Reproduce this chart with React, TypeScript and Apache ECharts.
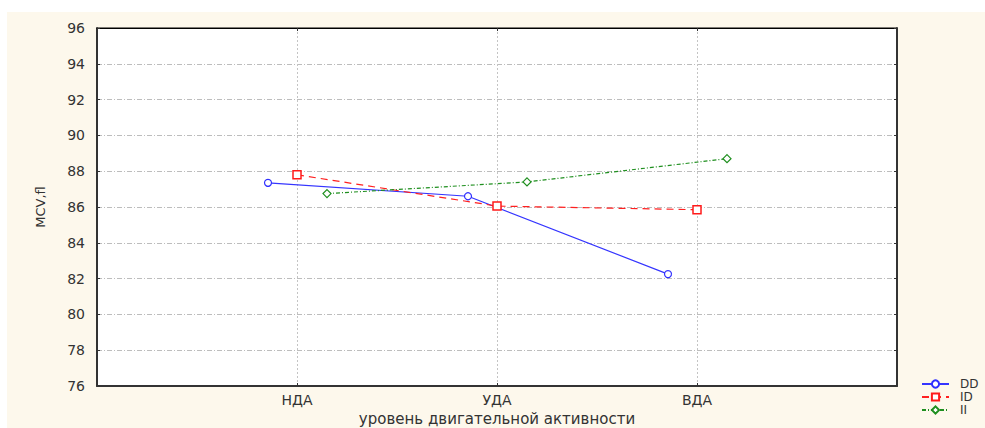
import React, { useEffect, useRef } from "react";
import * as echarts from "echarts";

const categories = ["НДА", "УДА", "ВДА"];
const seriesNames = ["DD", "ID", "II"];
const ddValues = [87.35, 86.6, 82.25];
const idValues = [87.8, 86.05, 85.85];
const iiValues = [86.75, 87.4, 88.7];
const yMin = 76;
const yMax = 96;
const yStep = 2;

const FONT = "DejaVu Sans";

export default function App() {
  const ref = useRef<HTMLDivElement>(null);

  useEffect(() => {
    if (!ref.current) return;
    const chart = echarts.init(ref.current, null, { renderer: "svg" });

    const offsets = [-0.145, 0, 0.15];
    const toData = (vals: number[], k: number) =>
      vals.map((v, i) => [i + 1 + offsets[k], v]);

    const gridSplitH = { show: true, lineStyle: { color: "#bdbdbd", width: 1, type: [5, 2, 1, 2] as any } };

    const option: any = {
      animation: false,
      backgroundColor: "#ffffff",
      graphic: [
        {
          type: "rect",
          left: 7,
          top: 12,
          shape: { width: 978, height: 416 },
          style: { fill: "#fdf8ec" },
          z: -10,
          silent: true,
        },
      ],
      grid: {
        left: 97,
        right: 88,
        top: 28,
        bottom: 42,
        show: true,
        containLabel: false,
        outerBoundsMode: "none",
        backgroundColor: "#ffffff",
        borderColor: "#000",
        borderWidth: 1,
      },
      legend: {
        orient: "vertical",
        left: 921,
        top: 378,
        itemWidth: 27,
        itemHeight: 9,
        itemGap: 1,
        padding: 0,
        textStyle: { fontFamily: FONT, fontSize: 12, lineHeight: 12, color: "#333", padding: [0, 0, 0, 6] },
        data: seriesNames,
      },
      xAxis: [
        {
          type: "value",
          min: 0,
          max: 4,
          interval: 1,
          name: "уровень двигательной активности",
          nameLocation: "middle",
          nameGap: 23,
          nameTextStyle: { fontFamily: FONT, fontSize: 15, color: "#333" },
          axisLine: { show: true, onZero: false, lineStyle: { color: "#333", width: 2 } },
          axisTick: { show: true, inside: true, length: 3, lineStyle: { color: "#333" } },
          axisLabel: {
            fontFamily: FONT,
            fontSize: 14,
            color: "#333",
            margin: 7,
            formatter: (v: number) => categories[v - 1] ?? "",
          },
          splitLine: { show: true, lineStyle: { color: "#c4c4c4", width: 1, type: [2, 2] } },
        },
        {
          type: "value",
          position: "top",
          min: 0,
          max: 4,
          interval: 1,
          axisLine: { show: true, onZero: false, lineStyle: { color: "#000", width: 1 } },
          axisTick: { show: true, inside: true, length: 3, lineStyle: { color: "#333" } },
          axisLabel: { show: false },
          splitLine: { show: false },
        },
      ],
      yAxis: [
        {
          type: "value",
          min: yMin,
          max: yMax,
          interval: yStep,
          name: "MCV,fl",
          nameLocation: "middle",
          nameGap: 50,
          nameTextStyle: { fontFamily: FONT, fontSize: 13, color: "#333" },
          axisLine: { show: true, onZero: false, lineStyle: { color: "#333", width: 2 } },
          axisTick: { show: true, inside: true, length: 3, lineStyle: { color: "#333" } },
          axisLabel: { fontFamily: FONT, fontSize: 14, color: "#333", margin: 12 },
          splitLine: gridSplitH,
        },
        {
          type: "value",
          position: "right",
          min: yMin,
          max: yMax,
          interval: yStep,
          axisLine: { show: true, onZero: false, lineStyle: { color: "#333", width: 2 } },
          axisTick: { show: true, inside: true, length: 3, lineStyle: { color: "#333" } },
          axisLabel: { show: false },
          splitLine: { show: false },
        },
      ],
      series: [
        {
          name: seriesNames[0],
          type: "line",
          data: toData(ddValues, 0),
          symbol: "circle",
          symbolSize: 7,
          itemStyle: { color: "#ffffff", borderColor: "#2f2fff", borderWidth: 1.2 },
          lineStyle: { color: "#3535ff", width: 1.2, type: "solid" },
          color: "#3535ff",
          z: 3,
        },
        {
          name: seriesNames[1],
          type: "line",
          data: toData(idValues, 1),
          symbol: "rect",
          symbolSize: 8,
          itemStyle: { color: "#ffffff", borderColor: "#ff1a1a", borderWidth: 1.5 },
          lineStyle: { color: "#ff2020", width: 1.2, type: [7, 5] },
          color: "#ff2020",
          z: 3,
        },
        {
          name: seriesNames[2],
          type: "line",
          data: toData(iiValues, 2),
          symbol: "diamond",
          symbolSize: 8,
          itemStyle: { color: "#ffffff", borderColor: "#1f8f1f", borderWidth: 1.2 },
          lineStyle: { color: "#1f8f1f", width: 1.2, type: [4, 2, 1, 2] },
          color: "#1f8f1f",
          z: 3,
        },
      ],
    };

    chart.setOption(option);
    return () => chart.dispose();
  }, []);

  return (
    <div
      ref={ref}
      style={{ position: "absolute", left: 0, top: 0, width: 985, height: 428 }}
    />
  );
}
